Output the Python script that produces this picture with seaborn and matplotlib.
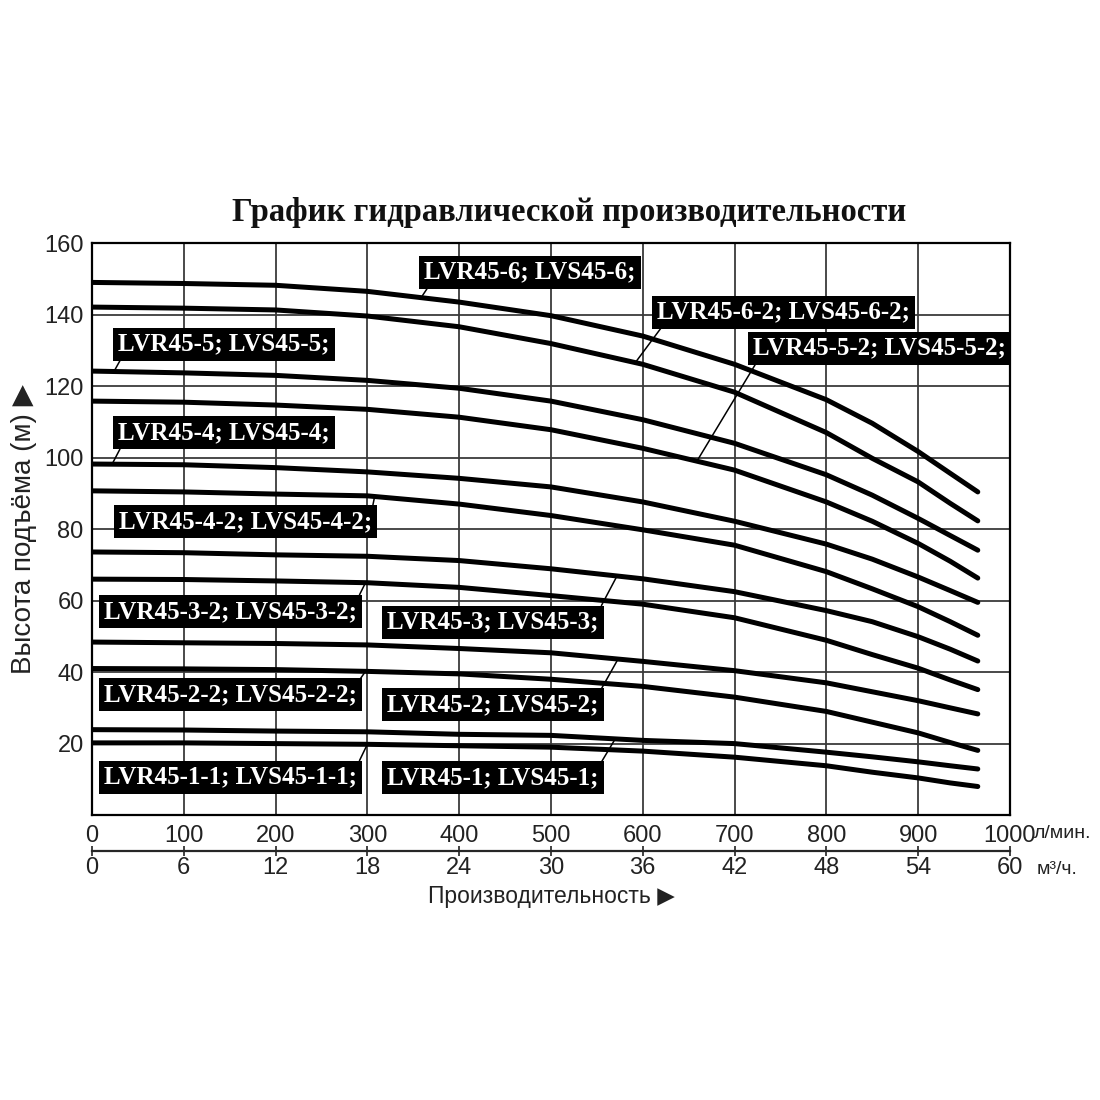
import numpy as np
import pandas as pd
import seaborn as sns
import matplotlib
matplotlib.use('Agg')
from matplotlib import pyplot as plt

# расход, л/мин
flow = [0, 100, 200, 300, 400, 500, 600, 700, 800, 850, 900, 935, 965]

models = ['LVR45-6; LVS45-6;', 'LVR45-6-2; LVS45-6-2;',
          'LVR45-5; LVS45-5;', 'LVR45-5-2; LVS45-5-2;',
          'LVR45-4; LVS45-4;', 'LVR45-4-2; LVS45-4-2;',
          'LVR45-3; LVS45-3;', 'LVR45-3-2; LVS45-3-2;',
          'LVR45-2; LVS45-2;', 'LVR45-2-2; LVS45-2-2;',
          'LVR45-1; LVS45-1;', 'LVR45-1-1; LVS45-1-1;']

# напор, м
h_6   = [149.0, 148.7, 148.2, 146.5, 143.5, 139.7, 134.0, 126.1, 116.2, 109.6, 101.7, 95.6, 90.4]
h_6_2 = [142.1, 141.8, 141.3, 139.6, 136.6, 131.9, 126.1, 118.3, 107.0, 99.8, 93.2, 87.2, 82.3]
h_5   = [124.2, 123.7, 123.0, 121.6, 119.4, 115.8, 110.6, 104.0, 95.2, 89.5, 83.0, 78.2, 74.1]
h_5_2 = [115.8, 115.5, 114.7, 113.5, 111.3, 107.8, 102.6, 96.5, 87.6, 82.2, 76.0, 71.0, 66.3]
h_4   = [98.2, 98.0, 97.2, 96.0, 94.2, 91.8, 87.6, 82.2, 75.8, 71.6, 66.6, 62.8, 59.5]
h_4_2 = [90.7, 90.4, 89.8, 89.3, 87.0, 83.8, 79.8, 75.5, 68.1, 63.3, 58.3, 54.1, 50.3]
h_3   = [73.6, 73.4, 72.8, 72.4, 71.2, 68.9, 66.1, 62.5, 57.2, 54.1, 49.9, 46.4, 43.1]
h_3_2 = [66.0, 65.9, 65.5, 65.0, 63.7, 61.4, 59.0, 55.2, 48.9, 44.9, 41.1, 37.8, 35.1]
h_2   = [48.4, 48.2, 48.0, 47.6, 46.6, 45.4, 43.0, 40.4, 37.0, 34.5, 32.0, 30.0, 28.3]
h_2_2 = [41.0, 40.9, 40.7, 40.2, 39.5, 38.0, 36.0, 33.0, 29.0, 26.0, 23.0, 20.3, 18.1]
h_1   = [23.9, 23.8, 23.5, 23.3, 22.6, 22.3, 20.9, 20.0, 17.6, 16.3, 14.9, 13.8, 12.9]
h_1_1 = [20.2, 20.2, 20.0, 19.8, 19.4, 19.0, 17.9, 16.2, 13.8, 12.0, 10.4, 9.0, 8.0]
heads = [h_6, h_6_2, h_5, h_5_2, h_4, h_4_2, h_3, h_3_2, h_2, h_2_2, h_1, h_1_1]

x_ticks = list(range(0, 1001, 100))
x2_ticks = list(range(0, 61, 6))
y_ticks = list(range(0, 161, 20))

# подписи: центр плашки и точка на кривой, куда идёт выноска
label_at = [(477, 151.9), (753, 140.7), (144, 131.7), (858, 130.6),
            (144, 107.0), (167, 82.0), (437, 54.0), (151, 57.0),
            (437, 30.8), (151, 33.6), (437, 10.4), (151, 10.6)]
leader_to = [(360, 145.3), (592, 126.6), (24, 124.1), (659, 99.0),
             (22, 98.2), (308, 89.2), (572, 66.9), (298, 65.0),
             (573, 43.6), (298, 40.2), (570, 21.3), (300, 19.8)]
leader_from = [(0.03, 0), (0.03, 0), (0.02, 0), (0.02, 0),
               (0.02, 0), (1, 1), (1, 1), (1, 1),
               (1, 1), (1, 1), (1, 1), (1, 1)]

rows = []
for m, h in zip(models, heads):
    for q, v in zip(flow, h):
        rows.append([q, v, m])
df = pd.DataFrame(rows, columns=['q', 'H', 'model'])

sns.set_style('white')
plt.rcParams['font.family'] = ['Liberation Sans', 'DejaVu Sans']

fig = plt.figure(figsize=(11, 11), dpi=100)
ax = fig.add_axes([0.0836, 0.259, 0.8345, 0.520])

sns.lineplot(data=df, x='q', y='H', hue='model', palette=['black'] * 12,
             estimator=None, sort=False, legend=False, linewidth=3.6,
             solid_joinstyle='round', solid_capstyle='round', ax=ax)

ax.set_xlim(0, 1000)
ax.set_ylim(0, 160)
ax.set_xticks(x_ticks)
ax.set_yticks(y_ticks)
ax.set_yticklabels([''] + [str(v) for v in y_ticks[1:]])
ax.grid(True, color='#3a3a3a', linewidth=1.3)
for s in ax.spines.values():
    s.set_color('black')
    s.set_linewidth(1.6)
ax.tick_params(axis='both', length=0, labelsize=17, colors='#222222')
ax.tick_params(axis='x', pad=7)
ax.tick_params(axis='y', pad=6)
ax.set_xlabel('')
ax.set_ylabel('Высота подъёма (м) ▶', fontsize=20, color='#222222', labelpad=5)

sec = ax.secondary_xaxis(-0.063, functions=(lambda x: x * 0.06, lambda x: x / 0.06))
sec.set_xticks(x2_ticks)
sec.spines['bottom'].set_linewidth(1.6)
sec.tick_params(axis='x', length=7, direction='inout', width=1.2,
                labelsize=17, colors='#222222', pad=1)

for m, xy_t, xy_c, rp in zip(models, label_at, leader_to, leader_from):
    ax.annotate(m, xy=xy_c, xytext=xy_t, ha='center', va='center',
                color='white', fontsize=18, fontweight='bold',
                family=['Liberation Serif', 'DejaVu Serif'],
                bbox=dict(boxstyle='square,pad=0.2', fc='black', ec='none'),
                arrowprops=dict(arrowstyle='-', color='black', lw=1.1,
                                shrinkA=0, shrinkB=0, relpos=rp))

fig.text(0.517, 0.807, 'График гидравлической производительности',
         ha='center', va='center', fontsize=23.5, fontweight='bold',
         family=['Liberation Serif', 'DejaVu Serif'], color='#111111')
fig.text(0.940, 1 - 834 / 1100, 'л/мин.', ha='left', va='center',
         fontsize=14, color='#222222')
fig.text(0.942, 1 - 869 / 1100, 'м³/ч.', ha='left', va='center',
         fontsize=14, color='#222222')
fig.text(0.501, 1 - 897 / 1100, 'Производительность ▶', ha='center', va='center',
         fontsize=16.5, color='#222222')

fig.savefig('out.png', dpi=100, facecolor='white')
